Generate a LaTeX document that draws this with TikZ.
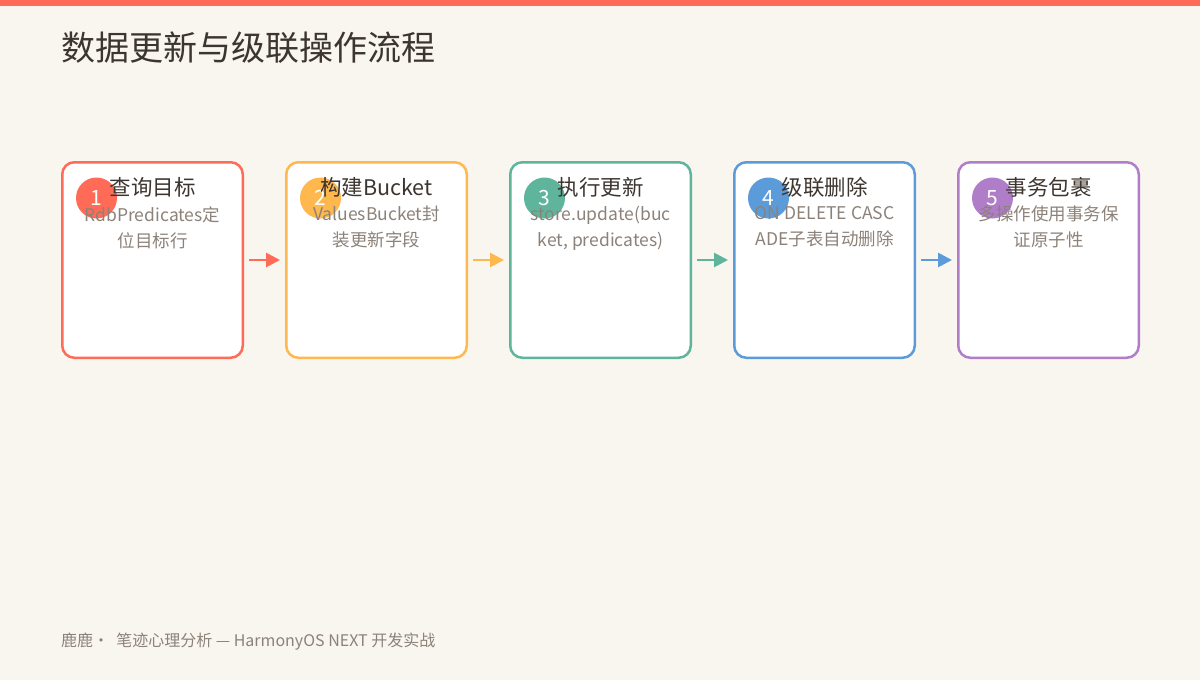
\documentclass[tikz,border=0pt]{standalone}
\usepackage{fontspec}
\setmainfont{Noto Sans CJK SC}
\usetikzlibrary{arrows.meta,positioning,calc}
\definecolor{FlowBg}{HTML}{F9F6F0}
\definecolor{FlowRed}{HTML}{FF6B57}
\definecolor{FlowYellow}{HTML}{FFB84D}
\definecolor{FlowGreen}{HTML}{5FB49C}
\definecolor{FlowBlue}{HTML}{5B9BD9}
\definecolor{FlowPurple}{HTML}{B07DC9}
\definecolor{FlowTitle}{HTML}{3D3530}
\definecolor{FlowDesc}{HTML}{8C8279}

\begin{document}
\begin{tikzpicture}[
        x=1pt, y=-1pt,
        node distance=41pt,
        stage/.style={draw=#1, fill=white, line width=2.5pt, rounded corners=12pt,
          minimum width=180.5pt, minimum height=195.5pt, inner sep=0pt},
        badge/.style={circle, fill=#1, minimum size=41pt, inner sep=0pt,
          text=white, font=\fontsize{21}{21}\selectfont},
        head/.style={text=FlowTitle, font=\fontsize{21.5}{21.5}\selectfont, inner sep=0pt},
        desc/.style={text=FlowDesc, font=\fontsize{17.5}{26}\selectfont, align=center, inner sep=0pt},
        arrow/.style={-{Triangle[length=14pt,width=14pt]}, line width=2.8pt, draw=#1}
      ]
        \useasboundingbox[fill=FlowBg] (0,0) rectangle (1200,680);
        \fill[FlowRed] (0,0) rectangle (1200,6);
        \node[anchor=west, text=FlowTitle, font=\fontsize{34}{34}\selectfont, inner sep=0pt]
          (title) at (61,48) {数据更新与级联操作流程};

        % stages
        \node[stage=FlowRed, anchor=north west] (query) at (61,161) {};
        \node[stage=FlowYellow, right=of query] (bucket) {};
        \node[stage=FlowGreen, right=of bucket] (update) {};
        \node[stage=FlowBlue, right=of update] (cascade) {};
        \node[stage=FlowPurple, right=of cascade] (trans) {};

        \foreach \s/\c/\n/\t/\d in {
            query/FlowRed/1/查询目标/{RdbPredicates定\\位目标行},
            bucket/FlowYellow/2/构建Bucket/{ValuesBucket封\\装更新字段},
            update/FlowGreen/3/执行更新/{store.update(buc\\ket, predicates)},
            cascade/FlowBlue/4/级联删除/{ON DELETE CASC\\ADE子表自动删除},
            trans/FlowPurple/5/事务包裹/{多操作使用事务保\\证原子性}} {
          \node[badge=\c] (\s-num) at ($(\s.north west)+(35.5,37)$) {\n};
          \node[head] (\s-head) at ($(\s.north)+(0,26)$) {\t};
          \node[desc, anchor=north] (\s-desc) at ($(\s.north)+(0,45)$) {\d};
        }

        \draw[arrow=FlowRed] ([xshift=5pt]query.east) -- ([xshift=-5pt]bucket.west);
        \draw[arrow=FlowYellow] ([xshift=5pt]bucket.east) -- ([xshift=-5pt]update.west);
        \draw[arrow=FlowGreen] ([xshift=5pt]update.east) -- ([xshift=-5pt]cascade.west);
        \draw[arrow=FlowBlue] ([xshift=5pt]cascade.east) -- ([xshift=-5pt]trans.west);

        \node[anchor=west, text=FlowDesc, font=\fontsize{16}{16}\selectfont, inner sep=0pt]
          (footer) at (61,642) {鹿鹿·\ \ 笔迹心理分析 — HarmonyOS NEXT 开发实战};
      \end{tikzpicture}
\end{document}
